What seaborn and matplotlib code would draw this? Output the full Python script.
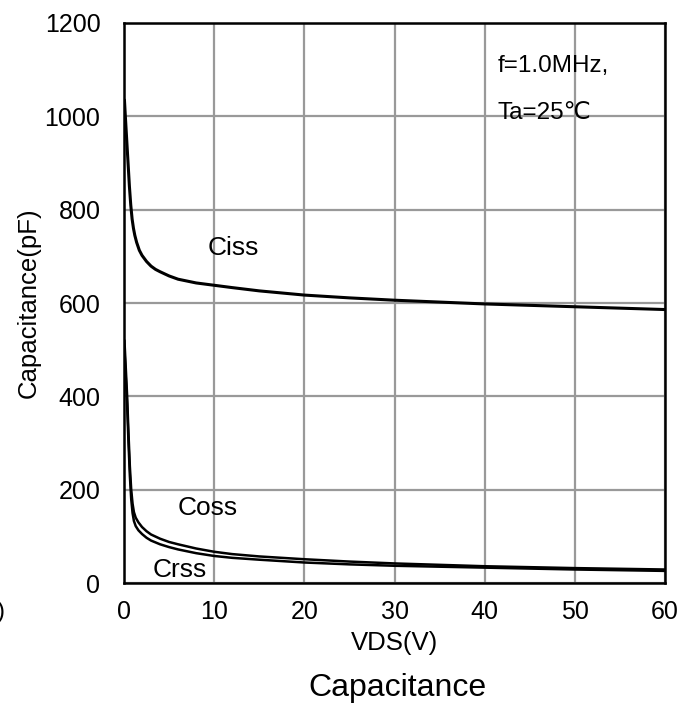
import numpy as np
import pandas as pd
import matplotlib
matplotlib.use("Agg")
import matplotlib.pyplot as plt
import seaborn as sns

# valeurs (VDS en V, capacite en pF)
vds_ciss = [0.05, 0.15, 0.3, 0.45, 0.6, 0.75, 0.9, 1.05, 1.2, 1.4, 1.7, 2.0, 2.5, 3.0, 3.5, 4.0,
            5.0, 6.0, 7.0, 8.0, 10, 12, 15, 20, 25, 30, 40, 50, 60]
ciss = [1035, 1000, 950, 900, 850, 810, 780, 760, 745, 730, 713, 702, 689, 679, 672, 667,
        658, 651, 647, 643, 638, 633, 626, 617, 611, 606, 598, 592, 586]

vds_oss = [0.05, 0.2, 0.35, 0.5, 0.65, 0.8, 0.95, 1.1, 1.3, 1.6, 2.0, 2.5, 3.0, 4.0, 5.0,
           6.0, 8.0, 10, 12, 15, 20, 25, 30, 40, 50, 60]
coss = [520, 460, 400, 320, 250, 200, 170, 152, 140, 130, 120, 111, 104, 95, 88,
        83, 74, 67, 62, 57, 51, 46, 42, 36, 32, 29]
crss = [500, 440, 380, 300, 230, 180, 150, 133, 122, 113, 105, 97, 91, 83, 77,
        72, 64, 58, 54, 50, 44, 40, 37, 33, 29, 26]

x_ticks = [0, 10, 20, 30, 40, 50, 60]
y_ticks = [0, 200, 400, 600, 800, 1000, 1200]

df_ciss = pd.DataFrame({"VDS": vds_ciss, "C": ciss})
df_oss = pd.DataFrame({"VDS": vds_oss, "Coss": coss, "Crss": crss})

sns.set_style("white")
plt.rcParams['font.family'] = ['Liberation Sans', 'DejaVu Sans']
plt.rcParams['text.color'] = 'black'

fig = plt.figure(figsize=(6.9, 7.05), dpi=100)
ax = fig.add_axes([0.1797, 0.1730, 0.9638 - 0.1797, 0.9674 - 0.1730])

sns.lineplot(data=df_ciss, x="VDS", y="C", ax=ax, color="black", linewidth=2.2)
sns.lineplot(data=df_oss, x="VDS", y="Coss", ax=ax, color="black", linewidth=1.8)
sns.lineplot(data=df_oss, x="VDS", y="Crss", ax=ax, color="black", linewidth=1.8)

ax.set_xlim(0, 60)
ax.set_ylim(0, 1200)
ax.set_xticks(x_ticks)
ax.set_yticks(y_ticks)
ax.grid(True, color="#999999", linewidth=1.6)
ax.set_axisbelow(True)
for s in ax.spines.values():
    s.set_color("black")
    s.set_linewidth(1.8)
ax.tick_params(axis="both", length=0, labelsize=18, colors="black")
ax.tick_params(axis="x", pad=12)
ax.tick_params(axis="y", pad=17)

ax.set_xlabel("VDS(V)", fontsize=18.5, labelpad=5, color="black")
ax.set_ylabel("Capacitance(pF)", fontsize=18.5, labelpad=3, color="black")

ax.text(9.3, 718, "Ciss", fontsize=19, va="center")
ax.text(6.0, 161, "Coss", fontsize=19, va="center")
ax.text(3.2, 28, "Crss", fontsize=19, va="center")
ax.text(41.4, 1108, "f=1.0MHz,", fontsize=17.5, va="center")
ax.text(41.4, 1007, "Ta=25℃", fontsize=17.5, va="center",
        family=['Liberation Sans', 'DejaVu Sans', 'Noto Sans CJK SC'])

fig.text(397 / 690, (705 - 688) / 705, "Capacitance", fontsize=23, ha="center", va="center")
fig.text(-0.004, (705 - 612) / 705, ")", fontsize=17, ha="left", va="center")

fig.savefig("out.png", dpi=100)
